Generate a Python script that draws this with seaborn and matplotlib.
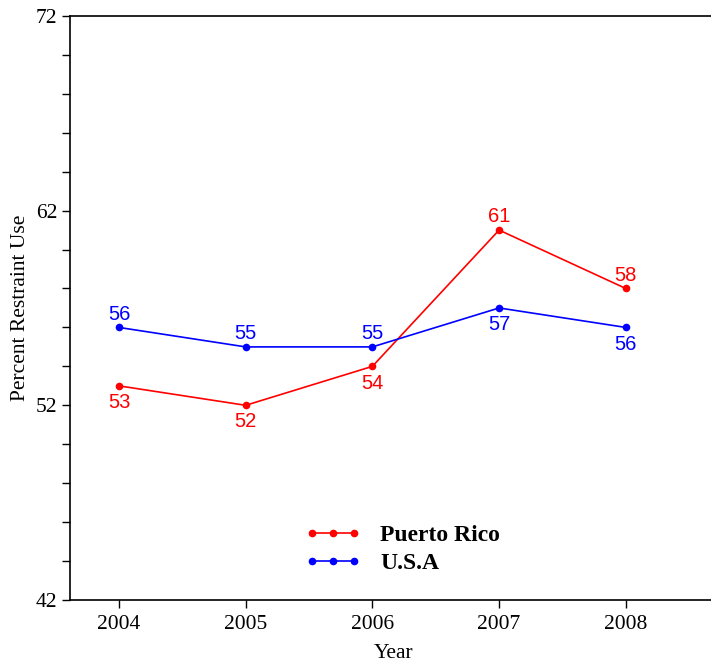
import numpy as np
import pandas as pd
import matplotlib
matplotlib.use("Agg")
import matplotlib.pyplot as plt
import seaborn as sns
from matplotlib.ticker import MultipleLocator

# data
years = [2004, 2005, 2006, 2007, 2008]
puerto_rico = [53, 52, 54, 61, 58]
usa = [56, 55, 55, 57, 56]
series_names = ["Puerto Rico", "U.S.A"]
colors = ["#ff0000", "#0000ff"]

df = pd.DataFrame({
    "Year": years * 2,
    "Percent": puerto_rico + usa,
    "Series": [series_names[0]] * len(years) + [series_names[1]] * len(years),
})

sns.set_style("ticks")
plt.rcParams["font.family"] = ["Liberation Serif", "DejaVu Serif"]
plt.rcParams["text.color"] = "black"
plt.rcParams["axes.labelcolor"] = "black"
plt.rcParams["xtick.color"] = "black"
plt.rcParams["ytick.color"] = "black"

fig = plt.figure(figsize=(7.11, 6.63), dpi=100)
ax = fig.add_axes([0.0985, 0.095, 0.91, 0.881])

sns.lineplot(
    data=df,
    x="Year",
    y="Percent",
    hue="Series",
    palette=colors,
    marker="o",
    markersize=5.5,
    markeredgewidth=0,
    linewidth=1.2,
    ax=ax,
)

# value labels
label_pos = {
    series_names[0]: ["below", "below", "below", "above", "above"],
    series_names[1]: ["above", "above", "above", "below", "below"],
}
for name, vals, c in zip(series_names, [puerto_rico, usa], colors):
    for x, v, pos in zip(years, vals, label_pos[name]):
        off = 9.5 if pos == "above" else -12
        ax.annotate(
            f"{v}", (x, v), xytext=(0, off), textcoords="offset points",
            ha="center", va="center", color=c, fontsize=14.5,
            family=["Liberation Sans", "DejaVu Sans"],
        )

ax.set_xlim(2003.614, 2008.72)
ax.set_ylim(42, 72)
ax.set_xticks(years)
ax.set_yticks([42, 52, 62, 72])
ax.yaxis.set_minor_locator(MultipleLocator(2))
ax.tick_params(axis="both", which="major", labelsize=15.5, length=6, width=1, direction="out")
ax.tick_params(axis="y", which="minor", length=6, width=1, direction="out")
ax.tick_params(axis="x", pad=5)
ax.tick_params(axis="y", pad=3)

ax.set_xlabel("Year", fontsize=15.5, labelpad=7)
ax.set_ylabel("Percent Restraint Use", fontsize=15.5, labelpad=4)

for sp in ax.spines.values():
    sp.set_color("black")
    sp.set_linewidth(1.2)
ax.spines["right"].set_visible(False)

handles, labels = ax.get_legend_handles_labels()
ax.legend(
    handles, labels, numpoints=3, frameon=False,
    loc="upper left", bbox_to_anchor=(0.33, 0.165),
    prop={"family": ["Liberation Serif"], "weight": "bold", "size": 17},
    handlelength=2.4, handletextpad=0.8, labelspacing=0.25,
)

fig.savefig("out.png", dpi=100)
